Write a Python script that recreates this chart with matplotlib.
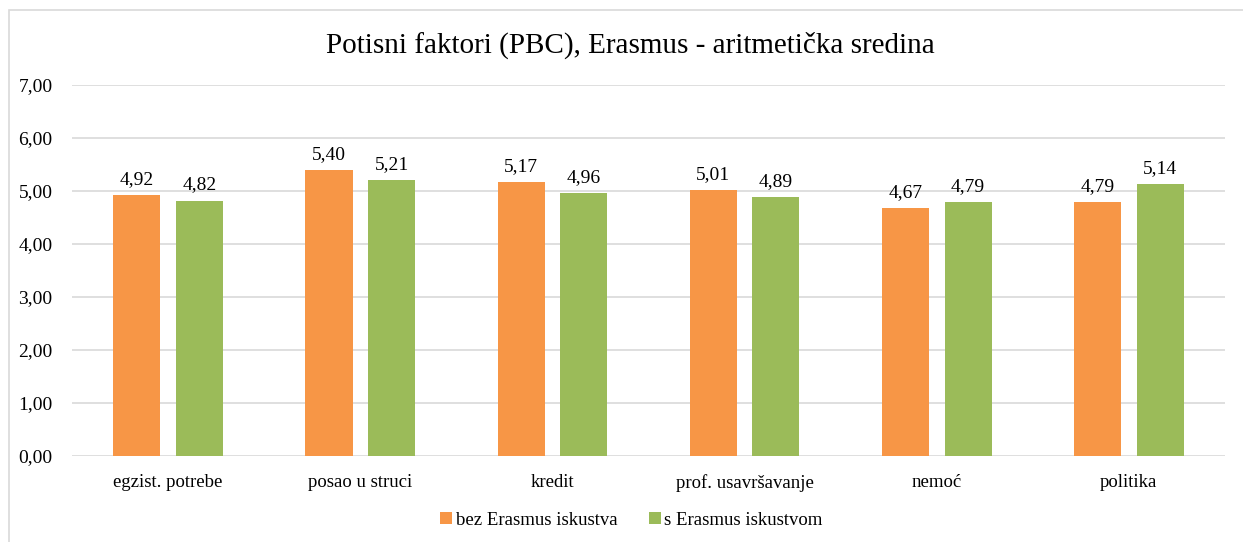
import matplotlib.pyplot as plt
import numpy as np
from matplotlib.patches import Rectangle

categories = ['egzist. potrebe', 'posao u struci', 'kredit',
              'prof. usavršavanje', 'nemoć', 'politika']
bez = [4.92, 5.40, 5.17, 5.01, 4.67, 4.79]
sa = [4.82, 5.21, 4.96, 4.89, 4.79, 5.14]
series_names = ['bez Erasmus iskustva', 's Erasmus iskustvom']
yticks = [0, 1, 2, 3, 4, 5, 6, 7]

plt.rcParams['font.family'] = ['Liberation Serif', 'DejaVu Serif']

fig = plt.figure(figsize=(12.43, 5.42), dpi=100)
ax = fig.add_axes([0.058, 0.1587, 0.9275, 0.6845])

# outer chart frame (cut off at right and bottom like the screenshot)
fig.patches.append(Rectangle((9 / 1243, -0.05), 1.2, 1 - 10 / 542 + 0.05,
                             transform=fig.transFigure, fill=False,
                             edgecolor='#d9d9d9', linewidth=1.2))

x = np.arange(len(categories))
w = 0.245
off = 0.163
b1 = ax.bar(x - off, bez, w, color='#F79646', label=series_names[0], zorder=3)
b2 = ax.bar(x + off, sa, w, color='#9BBB59', label=series_names[1], zorder=3)

for bars in (b1, b2):
    ax.bar_label(bars, labels=[f'{v:.2f}'.replace('.', ',') for v in bars.datavalues],
                 padding=5, fontsize=14)

ax.set_xlim(-0.5, len(categories) - 0.5)
ax.set_ylim(0, 7)
ax.set_yticks(yticks)
ax.set_yticklabels([f'{v:.2f}'.replace('.', ',') for v in yticks], fontsize=14)
ax.set_xticks(x)
ax.set_xticklabels(categories, fontsize=13.5)
ax.grid(axis='y', color='#d9d9d9', linewidth=1.2, zorder=0)
for s in ax.spines.values():
    s.set_visible(False)
ax.tick_params(length=0)
ax.tick_params(axis='y', pad=14)
ax.tick_params(axis='x', pad=13)

fig.text(0.507, 0.917, 'Potisni faktori (PBC), Erasmus - aritmetička sredina',
         ha='center', va='center', fontsize=21)

fig.legend(loc='center', bbox_to_anchor=(0.508, 0.04), ncol=2, frameon=False,
           fontsize=13.5, handlelength=0.65, handleheight=0.65, handletextpad=0.2,
           columnspacing=1.65)

fig.savefig('out.png', dpi=100)
